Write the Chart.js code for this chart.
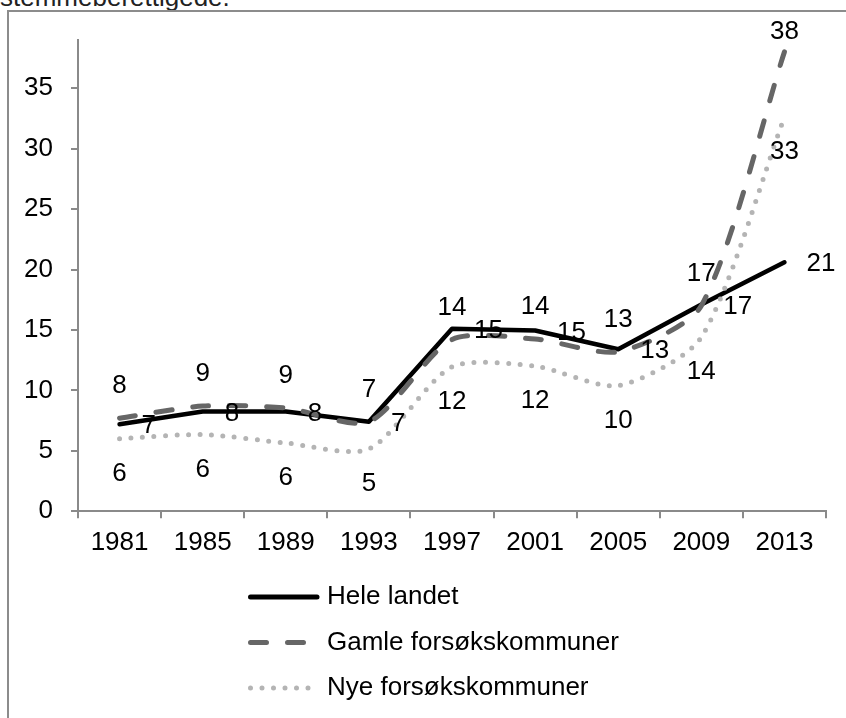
<!DOCTYPE html>
<html>
<head>
<meta charset="utf-8">
<script src="https://cdn.jsdelivr.net/npm/chart.js@4/dist/chart.umd.min.js"></script>
<style>
  html, body { margin: 0; padding: 0; background: #fff; overflow: hidden; }
  body { width: 846px; height: 718px; position: relative; font-family: "Liberation Sans", Arial, sans-serif; }
  #caption { position: absolute; left: 0; top: -16px; font-size: 26px; line-height: 26px; color: #222; white-space: nowrap; }
  #frame { position: absolute; left: 7px; top: 10px; width: 900px; height: 760px;
           border-left: 2px solid #8c8c8c; border-top: 2px solid #8c8c8c; }
  #chart { position: absolute; left: 0; top: 0; }
</style>
</head>
<body>
<div id="caption">stemmeberettigede.</div>
<div id="frame"></div>
<canvas id="chart" width="846" height="718"></canvas>
<script>
const years = ["1981", "1985", "1989", "1993", "1997", "2001", "2005", "2009", "2013"];
const heleLandet = [7.2, 8.25, 8.25, 7.4, 15.1, 14.95, 13.4, 17.1, 20.6];
const gamleForsok = [7.7, 8.7, 8.55, 7.4, 14.2, 14.25, 13.2, 17.0, 38.0];
const nyeForsok = [6.0, 6.35, 5.65, 5.15, 11.95, 12.0, 10.4, 14.4, 32.6];
const yMax = 39;
const yStep = 5;

const FONT = '"Liberation Sans", Arial, sans-serif';
Chart.defaults.font.family = FONT;
Chart.defaults.font.size = 26;
Chart.defaults.color = "#000";

// value labels next to each point (above / right / below like in the original)
const pointLabels = {
  id: "pointLabels",
  afterDatasetsDraw(chart) {
    const ctx = chart.ctx;
    ctx.save();
    ctx.font = "26px " + FONT;
    ctx.fillStyle = "#000";
    ctx.textBaseline = "middle";
    chart.data.datasets.forEach((ds, i) => {
      const meta = chart.getDatasetMeta(i);
      meta.data.forEach((pt, j) => {
        const txt = String(Math.round(ds.data[j]));
        let x = pt.x, y = pt.y;
        if (ds.labelPos === "right") {
          ctx.textAlign = "left"; x += 22; y += 2;
        } else if (ds.labelPos === "above") {
          ctx.textAlign = "center"; y = Math.max(y - 32, chart.chartArea.top - 8);
        } else {
          ctx.textAlign = "center"; y += 35;
        }
        ctx.fillText(txt, x, y);
      });
    });
    ctx.restore();
  }
};

// vertical legend under the plot
const stackedLegend = {
  id: "stackedLegend",
  afterDraw(chart) {
    const ctx = chart.ctx;
    ctx.save();
    ctx.font = "26px " + FONT;
    ctx.textBaseline = "middle";
    ctx.textAlign = "left";
    chart.data.datasets.forEach((ds, i) => {
      const y = 597 + i * 45.5;
      ctx.beginPath();
      ctx.strokeStyle = ds.borderColor;
      ctx.lineWidth = ds.legendWidth;
      ctx.lineCap = ds.borderCapStyle;
      ctx.setLineDash(ds.borderDash || []);
      ctx.moveTo(250.5, y);
      ctx.lineTo(ds.legendEnd, y);
      ctx.stroke();
      ctx.setLineDash([]);
      ctx.fillStyle = "#000";
      ctx.fillText(ds.label, 327, y);
    });
    ctx.restore();
  }
};

new Chart(document.getElementById("chart"), {
  type: "line",
  data: {
    labels: years,
    datasets: [
      {
        label: "Hele landet",
        data: heleLandet,
        borderColor: "#000",
        borderWidth: 4.5,
        borderCapStyle: "round",
        borderJoinStyle: "round",
        tension: 0,
        pointRadius: 0,
        order: 3,
        labelPos: "right",
        legendWidth: 5,
        legendEnd: 317
      },
      {
        label: "Gamle forsøkskommuner",
        data: gamleForsok,
        borderColor: "#666",
        borderWidth: 5,
        borderDash: [16, 21],
        borderCapStyle: "round",
        tension: 0.25,
        pointRadius: 0,
        order: 2,
        labelPos: "above",
        legendWidth: 5,
        legendEnd: 308
      },
      {
        label: "Nye forsøkskommuner",
        data: nyeForsok,
        borderColor: "#b4b4b4",
        borderWidth: 5,
        borderDash: [0, 11.5],
        borderCapStyle: "round",
        tension: 0.25,
        pointRadius: 0,
        order: 1,
        labelPos: "below",
        legendWidth: 5,
        legendEnd: 311
      }
    ]
  },
  options: {
    responsive: false,
    animation: false,
    layout: { padding: { left: 0, right: 20, top: 39.8, bottom: 156.7 } },
    plugins: { legend: { display: false }, tooltip: { enabled: false } },
    scales: {
      x: {
        offset: true,
        afterFit(scale) { scale.height = 50; },
        grid: { offset: true, drawOnChartArea: false, drawTicks: true, tickLength: 7, color: "#8a8a8a", lineWidth: 2 },
        border: { display: true, color: "#8a8a8a", width: 2 },
        ticks: { padding: 9, maxRotation: 0, color: "#000" }
      },
      y: {
        min: 0,
        max: yMax,
        afterFit(scale) { scale.width = 78; },
        grid: { drawOnChartArea: false, drawTicks: true, tickLength: 7, color: "#8a8a8a", lineWidth: 2 },
        border: { display: true, color: "#8a8a8a", width: 2 },
        ticks: { stepSize: yStep, includeBounds: false, padding: 18, color: "#000" }
      }
    }
  },
  plugins: [pointLabels, stackedLegend]
});
</script>
</body>
</html>
